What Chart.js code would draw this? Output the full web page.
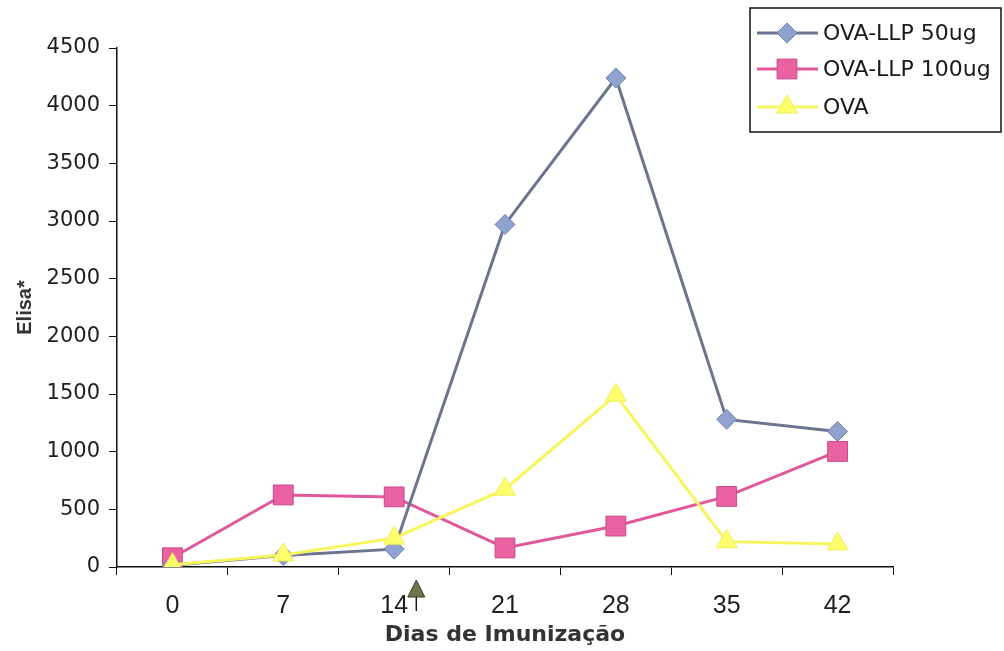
<!DOCTYPE html>
<html>
<head>
<meta charset="utf-8">
<script src="https://cdn.jsdelivr.net/npm/chart.js@4/dist/chart.umd.min.js"></script>
<style>
  html, body { margin: 0; padding: 0; background: #ffffff; }
  #wrap { width: 1004px; height: 651px; position: relative; }
</style>
</head>
<body>
<div id="wrap"><canvas id="c" width="1004" height="651"></canvas></div>
<script>
// Immunization days (x categories)
const days = ['0', '7', '14', '21', '28', '35', '42'];

// ELISA readings per group
const ova50 = [15, 100, 155, 2970, 4240, 1280, 1175];
const ova100 = [80, 625, 608, 165, 355, 612, 1002];
const ovaOnly = [20, 105, 250, 675, 1490, 220, 200];

const seriesNames = ['OVA-LLP 50ug', 'OVA-LLP 100ug', 'OVA'];

// Y axis range
const yMin = 0;
const yMax = 4500;
const yStep = 500;

// Booster marker position (day)
const boosterDay = 15.4;

const styles = [
  { line: '#6c7490', fill: '#8fa3d0', edge: '#6f80aa', point: 'rectRot', r: 10, order: 1 },
  { line: '#e0589a', fill: '#ea62a2', edge: '#c9488a', point: 'rect', r: 14, order: 2 },
  { line: '#f6f65c', fill: '#ffff6e', edge: '#eeee58', point: 'triangle', r: 12, order: 0 }
];

const seriesData = [ova50, ova100, ovaOnly];

const datasets = seriesData.map((d, i) => ({
  label: seriesNames[i],
  data: d,
  borderColor: styles[i].line,
  borderWidth: 3,
  backgroundColor: styles[i].fill,
  pointStyle: styles[i].point,
  pointRadius: styles[i].r,
  pointHoverRadius: styles[i].r,
  pointBackgroundColor: styles[i].fill,
  pointBorderColor: styles[i].edge,
  pointBorderWidth: 1,
  tension: 0,
  order: styles[i].order
}));

// Boxed legend in the upper right, line + marker + label per series
const boxLegend = {
  id: 'boxLegend',
  afterDraw(chart) {
    const ctx = chart.ctx;
    const x0 = 750, y0 = 8, x1 = 1001, y1 = 132;
    const rows = [33, 69, 107];
    ctx.save();
    ctx.fillStyle = '#ffffff';
    ctx.fillRect(x0, y0, x1 - x0, y1 - y0);
    ctx.strokeStyle = '#111111';
    ctx.lineWidth = 1.5;
    ctx.strokeRect(x0, y0, x1 - x0, y1 - y0);
    chart.data.datasets.forEach((ds, i) => {
      const y = rows[i];
      ctx.strokeStyle = ds.borderColor;
      ctx.lineWidth = 3;
      ctx.beginPath();
      ctx.moveTo(757, y);
      ctx.lineTo(818, y);
      ctx.stroke();
      ctx.fillStyle = ds.pointBackgroundColor;
      ctx.strokeStyle = ds.pointBorderColor;
      ctx.lineWidth = 1;
      Chart.helpers.drawPoint(ctx, { pointStyle: ds.pointStyle, radius: ds.pointRadius, borderWidth: 1, rotation: 0 }, 787, y);
      ctx.fillStyle = '#1a1a1a';
      ctx.font = '22px "DejaVu Sans"';
      ctx.textBaseline = 'middle';
      ctx.textAlign = 'left';
      ctx.fillText(ds.label, 823, y + 1);
    });
    ctx.restore();
  }
};

// Booster arrow under the x axis
const boosterArrow = {
  id: 'boosterArrow',
  afterDraw(chart) {
    const xs = chart.scales.x;
    const idx = Math.floor(boosterDay / 7);
    const p0 = xs.getPixelForValue(idx);
    const p1 = xs.getPixelForValue(idx + 1);
    const x = p0 + (p1 - p0) * (boosterDay - idx * 7) / 7;
    const top = chart.chartArea.bottom + 13;
    const ctx = chart.ctx;
    ctx.save();
    ctx.strokeStyle = '#1a1a1a';
    ctx.lineWidth = 1.5;
    ctx.beginPath();
    ctx.moveTo(x, top + 16);
    ctx.lineTo(x, top + 31);
    ctx.stroke();
    ctx.fillStyle = '#6f7548';
    ctx.strokeStyle = '#3d4028';
    ctx.lineWidth = 1;
    ctx.beginPath();
    ctx.moveTo(x, top);
    ctx.lineTo(x + 8.5, top + 17);
    ctx.lineTo(x - 8.5, top + 17);
    ctx.closePath();
    ctx.fill();
    ctx.stroke();
    ctx.restore();
  }
};

new Chart(document.getElementById('c'), {
  type: 'line',
  data: { labels: days, datasets },
  plugins: [boxLegend, boosterArrow],
  options: {
    responsive: false,
    animation: false,
    devicePixelRatio: 1,
    layout: { padding: { top: 48, right: 111, left: 0, bottom: 0 } },
    plugins: {
      legend: { display: false },
      tooltip: { enabled: false },
      title: { display: false }
    },
    scales: {
      x: {
        type: 'category',
        offset: true,
        afterFit(scale) { scale.height = 84; },
        grid: {
          display: true,
          offset: true,
          drawOnChartArea: false,
          drawTicks: true,
          tickLength: 8,
          color: '#111111',
          tickWidth: 1
        },
        border: { display: true, color: '#111111', width: 1.5 },
        ticks: {
          color: '#1e1e1e',
          font: { family: '"Liberation Sans", Arial, sans-serif', size: 25 },
          padding: 16,
          maxRotation: 0,
          autoSkip: false
        },
        title: {
          display: true,
          text: 'Dias de Imunização',
          color: '#333333',
          font: { family: '"DejaVu Sans"', size: 22, weight: 'bold' },
          padding: { top: 3, bottom: 3 }
        }
      },
      y: {
        min: yMin,
        max: yMax,
        afterFit(scale) { scale.width = 117; },
        grid: {
          display: true,
          drawOnChartArea: false,
          drawTicks: true,
          tickLength: 8,
          color: '#111111'
        },
        border: { display: true, color: '#111111', width: 1.5 },
        ticks: {
          stepSize: yStep,
          color: '#1e1e1e',
          font: { family: '"DejaVu Sans"', size: 21 },
          padding: 9,
          callback: (v) => String(v)
        },
        title: {
          display: true,
          text: 'Elisa*',
          color: '#333333',
          font: { family: '"Liberation Sans", Arial, sans-serif', size: 20, weight: 'bold' },
          padding: { top: 13, bottom: 13 }
        }
      }
    }
  }
});
</script>
</body>
</html>
